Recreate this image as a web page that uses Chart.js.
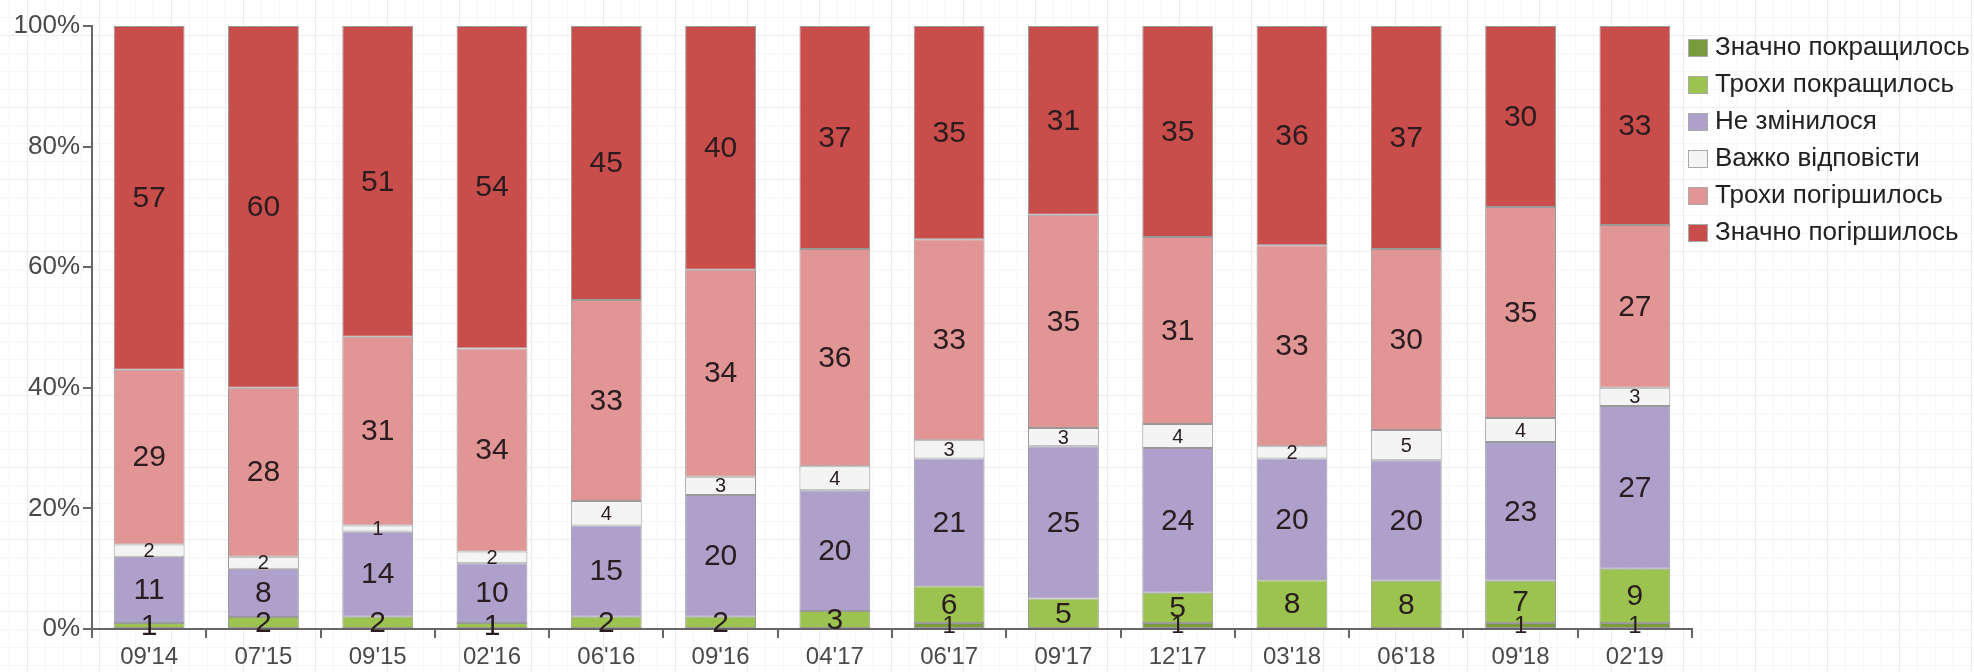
<!DOCTYPE html>
<html>
<head>
<meta charset="utf-8">
<script src="https://cdn.jsdelivr.net/npm/chart.js@4"></script>
<style>
  html, body { margin: 0; padding: 0; }
  body {
    width: 1974px; height: 672px; overflow: hidden;
    background-color: #fff;
    background-image:
      linear-gradient(to right, #ececec 1px, transparent 1px),
      linear-gradient(to bottom, #ececec 1px, transparent 1px),
      linear-gradient(to right, #f6f6f6 1px, transparent 1px),
      linear-gradient(to bottom, #f6f6f6 1px, transparent 1px);
    background-size: 72px 72px, 72px 72px, 18px 18px, 18px 18px;
    background-position: 27px 35px, 27px 35px, 27px 35px, 27px 35px;
  }
  #wrap { position: relative; width: 1974px; height: 672px; }
  #legend { position: absolute; left: 1688px; top: 28px; margin: 0; padding: 0; list-style: none;
    font-family: "Liberation Sans", Arial, sans-serif; font-size: 26px; color: #222; }
  #legend li { height: 37px; line-height: 37px; white-space: nowrap; }
  #legend span { display: inline-block; width: 20px; height: 18px; margin-right: 7px;
    vertical-align: -2px; box-sizing: border-box; border: 1px solid #aaa; }
</style>
</head>
<body>
<div id="wrap"><canvas id="myChart"></canvas><ul id="legend"></ul></div>
<script>
var waves = ["09'14", "07'15", "09'15", "02'16", "06'16", "09'16", "04'17", "06'17", "09'17", "12'17", "03'18", "06'18", "09'18", "02'19"];

var muchBetter   = [0, 0, 0, 0, 0, 0, 0, 1, 0, 1, 0, 0, 1, 1];
var bitBetter    = [1, 2, 2, 1, 2, 2, 3, 6, 5, 5, 8, 8, 7, 9];
var noChange     = [11, 8, 14, 10, 15, 20, 20, 21, 25, 24, 20, 20, 23, 27];
var hardToSay    = [2, 2, 1, 2, 4, 3, 4, 3, 3, 4, 2, 5, 4, 3];
var bitWorse     = [29, 28, 31, 34, 33, 34, 36, 33, 35, 31, 33, 30, 35, 27];
var muchWorse    = [57, 60, 51, 54, 45, 40, 37, 35, 31, 35, 36, 37, 30, 33];

var yTicks = [0, 20, 40, 60, 80, 100];

var seriesNames = ["Значно покращилось", "Трохи покращилось", "Не змінилося", "Важко відповісти", "Трохи погіршилось", "Значно погіршилось"];
var seriesData = [muchBetter, bitBetter, noChange, hardToSay, bitWorse, muchWorse];
var seriesColors = ["#7a9a3e", "#9cc34f", "#ada0cb", "#f4f4f4", "#e29595", "#c94d4a"];

// 100% stacked, like the original
var totals = waves.map(function(w, j) {
  var s = 0;
  seriesData.forEach(function(arr) { s += arr[j]; });
  return s;
});

var datasets = seriesData.map(function(arr, i) {
  return {
    label: seriesNames[i],
    counts: arr,
    data: arr.map(function(v, j) { return v / totals[j] * 100; }),
    backgroundColor: seriesColors[i],
    borderColor: "#9a9a9a",
    borderWidth: 1,
    borderSkipped: false,
    barPercentage: 0.62,
    categoryPercentage: 1
  };
});

// legend
var legendEl = document.getElementById('legend');
seriesNames.forEach(function(name, i) {
  var li = document.createElement('li');
  var box = document.createElement('span');
  box.style.background = seriesColors[i];
  li.appendChild(box);
  li.appendChild(document.createTextNode(name));
  legendEl.appendChild(li);
});

var valueLabels = {
  id: 'valueLabels',
  afterDatasetsDraw: function(chart) {
    var ctx = chart.ctx;
    chart.data.datasets.forEach(function(ds, i) {
      var meta = chart.getDatasetMeta(i);
      meta.data.forEach(function(bar, j) {
        var v = ds.counts[j];
        if (!v) return;
        var size = i == 3 ? 20 : (i == 0 ? 24 : 30);
        ctx.save();
        ctx.font = size + 'px "Liberation Sans", Arial, sans-serif';
        ctx.fillStyle = '#2a1c1f';
        ctx.textAlign = 'center';
        ctx.textBaseline = 'middle';
        ctx.fillText(String(v), bar.x, (bar.y + bar.base) / 2 + 1);
        ctx.restore();
      });
    });
  }
};

new Chart("myChart", {
  type: "bar",
  data: { labels: waves, datasets: datasets },
  plugins: [valueLabels],
  options: {
    responsive: true,
    maintainAspectRatio: false,
    animation: false,
    layout: { padding: { top: 26, right: 282, left: 0, bottom: 0 } },
    plugins: {
      tooltip: { enabled: false },
      legend: { display: false }
    },
    scales: {
      x: {
        stacked: true,
        offset: true,
        grid: { offset: true, drawOnChartArea: false, tickLength: 9, color: '#666', lineWidth: 2 },
        border: { color: '#666', width: 2 },
        ticks: {
          color: '#4a4a4a',
          padding: 5,
          maxRotation: 0,
          font: { size: 24, family: '"Liberation Sans", Arial, sans-serif' }
        },
        afterFit: function(scale) { scale.height = 43; }
      },
      y: {
        stacked: true,
        min: 0,
        max: 100,
        afterBuildTicks: function(scale) {
          scale.ticks = yTicks.map(function(v) { return { value: v }; });
        },
        grid: { drawOnChartArea: false, tickLength: 9, color: '#666', lineWidth: 2 },
        border: { color: '#666', width: 2 },
        ticks: {
          color: '#4a4a4a',
          padding: 3,
          font: { size: 26, family: '"Liberation Sans", Arial, sans-serif' },
          callback: function(v) { return v + '%'; }
        },
        afterFit: function(scale) { scale.width = 92; }
      }
    }
  }
});
</script>
</body>
</html>
